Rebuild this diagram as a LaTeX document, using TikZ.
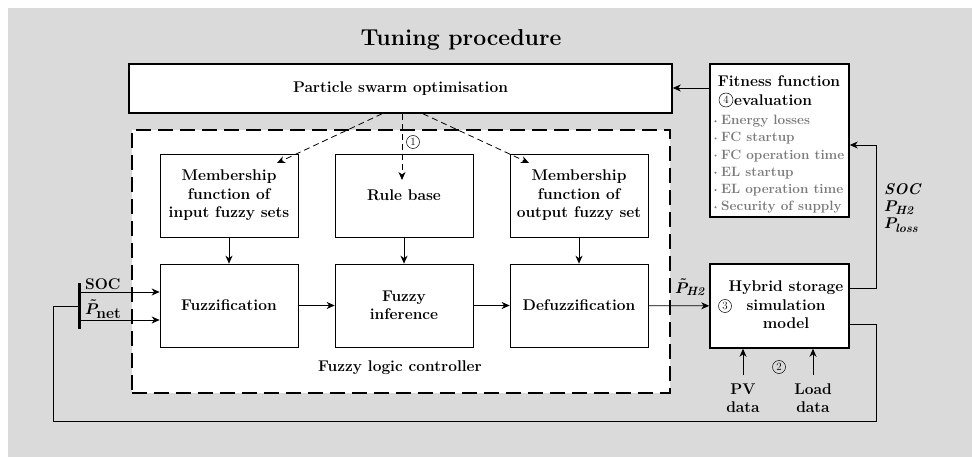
\RequirePackage{fix-cm}
\documentclass[tikz,border=0pt]{standalone}
\usepackage{bm}
\usetikzlibrary{arrows.meta}
\definecolor{bggray}{HTML}{DADADA}
\definecolor{itemgray}{HTML}{7A7A7A}
\newcommand{\boxfont}{\fontsize{15.5}{18.5}\selectfont\bfseries}
\newcommand{\itemfont}{\fontsize{13.5}{15}\selectfont\bfseries}
\newcommand{\subtxt}[1]{\mbox{\fontsize{12}{12}\selectfont\bfseries\itshape #1}}
\begin{document}
\begin{tikzpicture}[x=1pt,y=-1pt,
  arr/.style={-{Stealth[length=8pt,width=7pt,inset=2.5pt]}, line width=0.8pt},
  darr/.style={arr, dash pattern=on 6pt off 4pt},
  blk/.style={draw, line width=0.7pt, fill=white, minimum width=138pt, minimum height=83pt,
    align=center, font=\boxfont, inner sep=2pt},
  heavyblk/.style={draw, line width=1.6pt, fill=white, align=center, font=\boxfont},
  circnum/.style={circle, draw, line width=0.5pt, inner sep=0pt, minimum size=13pt,
    font=\fontsize{11}{11}\selectfont},
  lbl/.style={font=\boxfont, inner sep=0pt},
  item/.style={font=\itemfont, text=itemgray, anchor=west, inner sep=0pt}]
% canvas
\useasboundingbox (0,0) rectangle (972,457);
\fill[bggray] (8,8) rectangle (972,457);

% title
\node[font=\fontsize{23}{27}\selectfont\bfseries] (title) at (461,40) {Tuning procedure};

% optimiser and controller frame
\node[heavyblk, minimum width=543pt, minimum height=49pt] (pso) at (400.5,88.5) {Particle swarm optimisation};
\node[draw, line width=2pt, dash pattern=on 15pt off 7pt, fill=white,
  minimum width=538pt, minimum height=263pt] (flc) at (401,261.5) {};
\node[lbl] (flclbl) at (400,368) {Fuzzy logic controller};

% controller blocks
\node[blk] (mfin)  at (229,195.5) {Membership\\function of\\input fuzzy sets};
\node[blk] (rb)    at (404,195.5) {Rule base};
\node[blk] (mfout) at (579,195.5) {Membership\\function of\\output fuzzy set};
\node[blk] (fuz)   at (229,305.5) {Fuzzification};
\node[blk] (inf)   at (404,305.5) {Fuzzy\\inference};
\node[blk] (def)   at (579,305.5) {Defuzzification};

\draw[arr] (mfin) -- (fuz);
\draw[arr] (rb) -- (inf);
\draw[arr] (mfout) -- (def);
\draw[arr] (fuz) -- (inf);
\draw[arr] (inf) -- (def);

% tuning links from the optimiser
\coordinate (t1) at (277,163);
\coordinate (t2) at (402,180);
\coordinate (t3) at (529,163);
\draw[darr] ([xshift=-18.5pt]pso.south) -- (t1);
\draw[darr] ([xshift=1.5pt]pso.south) -- (t2);
\draw[darr] ([xshift=22.5pt]pso.south) -- (t3);
\node[circnum] (n1) at (413,142) {1};

% controller inputs
\coordinate (bartop) at (79,283);
\coordinate (barbot) at (79,329);
\coordinate (socin) at (79,292);
\coordinate (pin) at (79,320);
\coordinate (fbin) at (79,306);
\draw[line width=3pt] (bartop) -- (barbot);
\draw[arr] (socin) -- (socin -| fuz.west);
\draw[arr] (pin) -- (pin -| fuz.west);
\node[lbl, anchor=base west] (soclbl) at (85,289) {SOC};
\node[lbl, anchor=base west] (pnetlbl) at (85,314) {$\bm{\tilde{P}}_{\textbf{net}}$};

% hybrid storage model
\node[heavyblk, minimum width=139pt, minimum height=84pt] (hyb) at (779.5,306) {};
\node[lbl, align=center] (hybtxt) at (786,305) {Hybrid storage\\simulation\\model};
\node[circnum] (n3) at (725,306) {3};
\draw[arr] (def) -- (hyb);
\node[lbl, anchor=base west] (ph2lbl) at (675,293) {$\bm{\tilde{P}}_{\subtxt{H2}}$};

\coordinate (pvsrc) at (743,375);
\coordinate (ldsrc) at (813,375);
\draw[arr] (pvsrc) -- (pvsrc |- hyb.south);
\draw[arr] (ldsrc) -- (ldsrc |- hyb.south);
\node[lbl, align=center] (pvlbl) at (743,398) {PV\\data};
\node[lbl, align=center] (ldlbl) at (813,398) {Load\\data};
\node[circnum] (n2) at (779,367) {2};

% feedback of the state to the controller
\coordinate (fbA) at (53,306);
\coordinate (fbB) at (53,421);
\coordinate (fbC) at (876,421);
\coordinate (fbD) at (876,324);
\draw[line width=0.8pt] (fbin) -- (fbA) -- (fbB) -- (fbC) -- (fbD) -- (fbD -| hyb.east);

% fitness evaluation
\node[heavyblk, minimum width=139pt, minimum height=153pt] (fit) at (779.5,140.5) {};
\node[lbl] (fittitle) at (779,81) {Fitness function};
\node[circnum, minimum size=14pt] (n4) at (726,100) {4};
\node[lbl, anchor=west] (evallbl) at (734,100) {evaluation};
\foreach \t [count=\i] in {Energy losses, FC startup, FC operation time, EL startup, EL operation time, Security of supply}{
  \fill[itemgray] (715.5,{104+17.2*\i}) circle (1.1pt);
  \node[item] (it\i) at (721,{104+17.2*\i}) {\t};
}

\coordinate (ho) at (849,288);
\coordinate (hoR) at (876,288);
\coordinate (fiR) at (876,145);
\draw[arr] (ho -| hyb.east) -- (hoR) -- (fiR) -- (fiR -| fit.east);
\coordinate (pf) at (710,88);
\draw[arr] (pf -| fit.west) -- (pf -| pso.east);

\node[lbl, anchor=base west] (socout) at (884,195) {\textit{SOC}};
\node[lbl, anchor=base west] (ph2out) at (884,212) {$\bm{P}_{\subtxt{H2}}$};
\node[lbl, anchor=base west] (plossout) at (884,229) {$\bm{P}_{\subtxt{loss}}$};
\end{tikzpicture}
\end{document}
